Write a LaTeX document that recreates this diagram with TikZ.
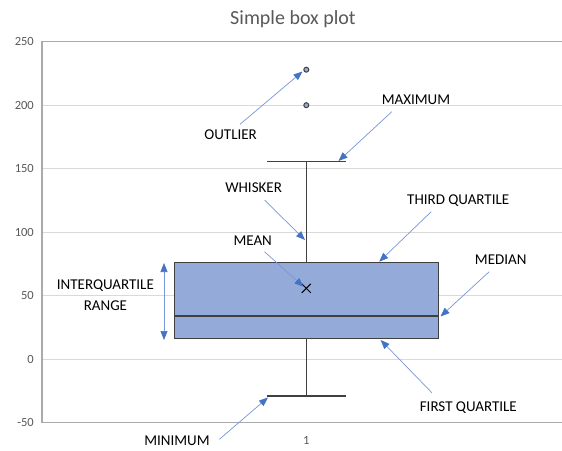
\documentclass[tikz,border=0pt]{standalone}
\usepackage{fontspec}
\setmainfont{Carlito}
\usetikzlibrary{arrows.meta}
\definecolor{gridgray}{RGB}{217,217,217}
\definecolor{axisgray}{RGB}{170,170,170}
\definecolor{textgray}{RGB}{89,89,89}
\definecolor{boxblue}{RGB}{148,170,216}
\definecolor{boxedge}{RGB}{64,64,64}
\definecolor{callout}{RGB}{68,114,196}
\definecolor{calloutline}{RGB}{120,150,215}
\tikzset{
  gridline/.style={draw=gridgray, line width=1pt},
  ticklabel/.style={text=textgray, font=\fontsize{12.5}{14}\selectfont, inner sep=0pt},
  callabel/.style={text=black, font=\fontsize{15}{17}\selectfont, inner sep=0pt, align=center},
  pointer/.style={draw=calloutline, line width=0.7pt,
    -{Triangle[length=9pt,width=7pt,fill=callout,color=callout]}},
  twoway/.style={draw=calloutline, line width=0.7pt,
    {Triangle[length=9pt,width=7pt,fill=callout,color=callout]}-{Triangle[length=9pt,width=7pt,fill=callout,color=callout]}},
  whiskerline/.style={draw=boxedge, line width=1.3pt},
  outpoint/.style={circle, draw=boxedge, fill=boxblue, line width=1pt, minimum size=5pt, inner sep=0pt}
}
\begin{document}
\begin{tikzpicture}[x=1pt,y=-1pt]
\useasboundingbox (0,0) rectangle (562,450);
\fill[white] (0,0) rectangle (562,450);

% title
\node[text=textgray, font=\fontsize{20}{24}\selectfont, inner sep=0pt] (title) at (293,19) {Simple box plot};

% horizontal gridlines and value labels
\foreach \v/\yy in {250/41.7,200/105.2,150/168.7,100/232.2,50/295.7,0/359.2,-50/422.7}{
  \draw[gridline] (42,\yy) -- (563,\yy);
  \node[ticklabel, anchor=east] at (34,\yy) {\v};
}
% plot frame
\draw[axisgray, line width=1.2pt] (563,41.7) -- (42,41.7) -- (42,422.7) -- (563,422.7);
\node[ticklabel] (cat) at (306.3,440) {1};

% whiskers
\coordinate (wtop) at (306.3,161.7);
\coordinate (wbot) at (306.3,396);
\draw[whiskerline] (306.3,262.7) -- (wtop);
\draw[whiskerline] (306.3,338.7) -- (wbot);
\draw[whiskerline] (267.4,161.7) -- (345.9,161.7);
\draw[whiskerline] (267.4,396) -- (345.9,396);

% box with median
\draw[fill=boxblue, draw=boxedge, line width=1.3pt] (174.3,262.7) rectangle (438.7,338.7);
\draw[whiskerline] (174.3,316) -- (438.7,316);

% mean marker
\draw[black, line width=1pt] (301.8,283.8) -- (310.8,292.8) (301.8,292.8) -- (310.8,283.8);

% outliers
\node[outpoint] (out1) at (306.3,69.7) {};
\node[outpoint] (out2) at (306.3,105.2) {};

% callout labels
\node[callabel] (lOutlier) at (230.6,135) {OUTLIER};
\node[callabel] (lMax) at (416,99.3) {MAXIMUM};
\node[callabel] (lWhisker) at (253.6,187.7) {WHISKER};
\node[callabel] (lQ3) at (458.2,201) {THIRD QUARTILE};
\node[callabel] (lMean) at (252.7,241) {MEAN};
\node[callabel] (lMedian) at (500.7,260) {MEDIAN};
\node[callabel] (lIQR1) at (105.4,285.7) {INTERQUARTILE};
\node[callabel] (lIQR2) at (105.4,305.7) {RANGE};
\node[callabel] (lQ1) at (468.3,407.3) {FIRST QUARTILE};
\node[callabel] (lMin) at (177,441) {MINIMUM};

% callout arrows
\coordinate (aOutS) at (240,124.3);   \coordinate (aOutE) at (302.5,71.5);
\coordinate (aMaxS) at (391.8,111.7); \coordinate (aMaxE) at (338.5,161);
\coordinate (aWhS) at (264.5,200);    \coordinate (aWhE) at (305,240);
\coordinate (aQ3S) at (431.2,211.7);  \coordinate (aQ3E) at (379.2,261.7);
\coordinate (aMeanS) at (264.5,251.7);\coordinate (aMeanE) at (303.5,286.7);
\coordinate (aMedS) at (489.2,271.7); \coordinate (aMedE) at (440.5,316.5);
\coordinate (aQ1S) at (431.9,392.7);  \coordinate (aQ1E) at (380.6,340);
\coordinate (aMinS) at (219.4,439.3); \coordinate (aMinE) at (268,397.5);
\coordinate (iqrTop) at (164,263);    \coordinate (iqrBot) at (164,340);

\draw[pointer] (aOutS) -- (aOutE);
\draw[pointer] (aMaxS) -- (aMaxE);
\draw[pointer] (aWhS) -- (aWhE);
\draw[pointer] (aQ3S) -- (aQ3E);
\draw[pointer] (aMeanS) -- (aMeanE);
\draw[pointer] (aMedS) -- (aMedE);
\draw[pointer] (aQ1S) -- (aQ1E);
\draw[pointer] (aMinS) -- (aMinE);
\draw[twoway] (iqrBot) -- (iqrTop);
\end{tikzpicture}
\end{document}
